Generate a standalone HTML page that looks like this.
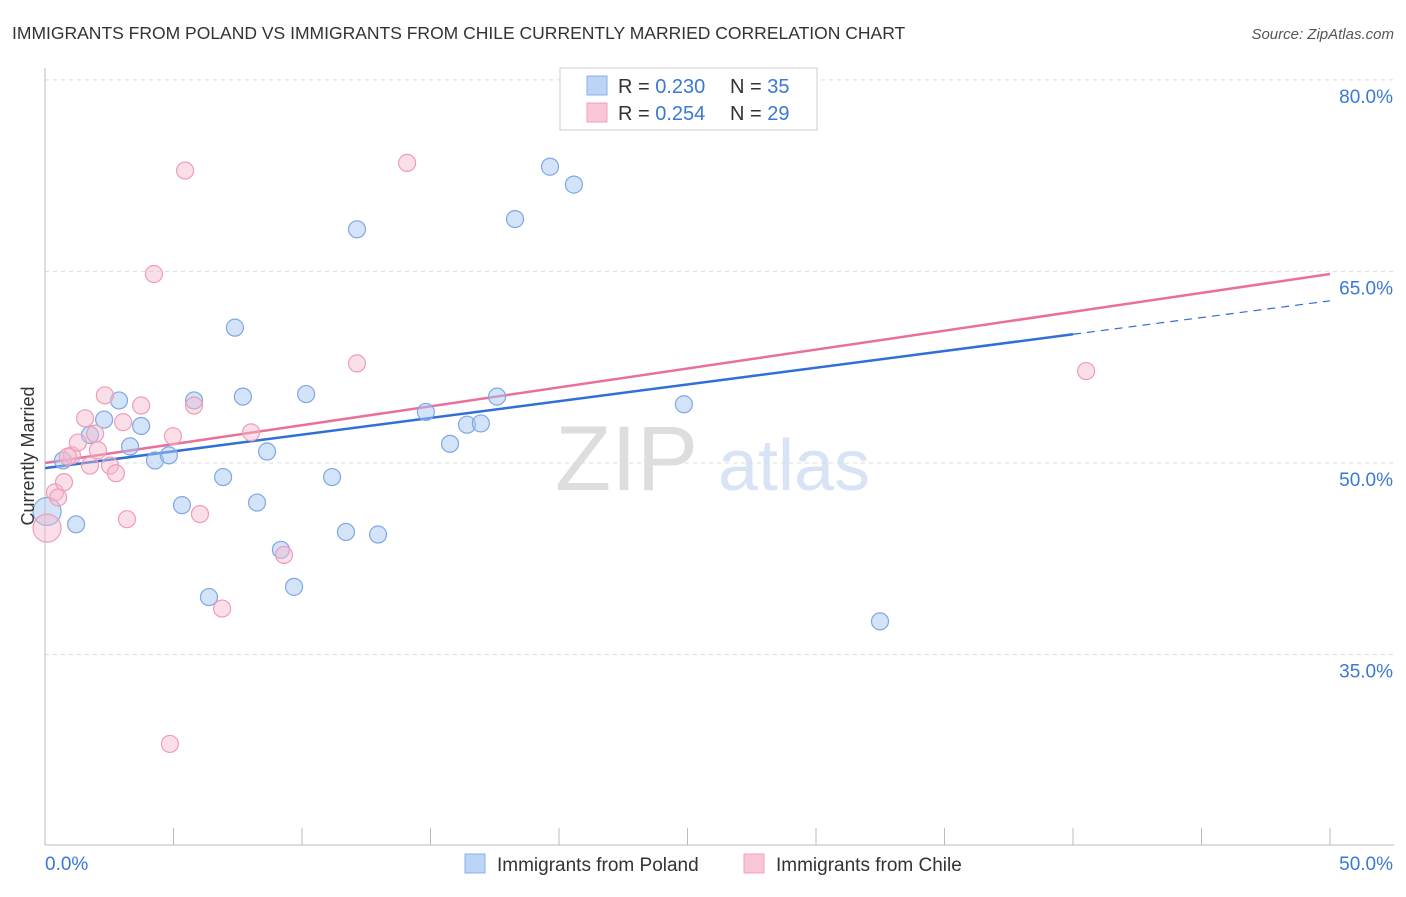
<!DOCTYPE html>
<html><head><meta charset="utf-8"><style>
body{margin:0;background:#fff;font-family:"Liberation Sans",sans-serif;}
svg text{font-family:"Liberation Sans",sans-serif;}
</style></head><body>
<svg id="chart" width="1406" height="892" xmlns="http://www.w3.org/2000/svg">
<text x="12" y="39" font-size="17.5" fill="#333">IMMIGRANTS FROM POLAND VS IMMIGRANTS FROM CHILE CURRENTLY MARRIED CORRELATION CHART</text>
<text x="1394" y="39" font-size="15" fill="#555" text-anchor="end" font-style="italic">Source: ZipAtlas.com</text>
<g>
<text x="555" y="490" font-size="92" fill="#ddd" font-family="Liberation Serif,serif">ZIP</text>
<text x="718" y="490" font-size="72" fill="#d8e4f5">atlas</text>
</g>
<g id="grid"></g>
<g id="axes"></g>
<g id="lines"></g>
<g id="points"></g>
<text transform="translate(34,456) rotate(-90)" font-size="18" fill="#333" text-anchor="middle">Currently Married</text>
<g>
<rect x="560" y="68" width="257" height="62" fill="#fff" stroke="#ccc"/>
<rect x="587" y="76" width="20" height="19" fill="#bcd4f5" stroke="#8ab0e6"/>
<rect x="587" y="103" width="20" height="19" fill="#f9c6d5" stroke="#f0a0bb"/>
<text x="618" y="93" font-size="20" fill="#333">R = <tspan fill="#3a78d4">0.230</tspan></text>
<text x="730" y="93" font-size="20" fill="#333">N = <tspan fill="#3a78d4">35</tspan></text>
<text x="618" y="120" font-size="20" fill="#333">R = <tspan fill="#3a78d4">0.254</tspan></text>
<text x="730" y="120" font-size="20" fill="#333">N = <tspan fill="#3a78d4">29</tspan></text>
</g>
<g>
<rect x="465" y="854" width="20" height="19" fill="#bcd4f5" stroke="#8ab0e6"/>
<text x="497" y="871" font-size="19" fill="#333">Immigrants from Poland</text>
<rect x="744" y="854" width="20" height="19" fill="#f9c6d5" stroke="#f0a0bb"/>
<text x="776" y="871" font-size="19" fill="#333">Immigrants from Chile</text>
</g>
</svg>
<script>
const yTicks=[35,50,65,80];
const xTickLabels=["0.0%","50.0%"];
const polandX=[0.08,1.21,0.70,1.75,2.30,2.88,3.31,3.74,4.28,4.82,5.33,5.80,6.38,6.93,7.39,7.70,8.25,8.64,9.18,9.69,10.16,11.17,11.71,12.14,12.96,14.82,15.76,16.42,16.96,17.59,18.29,19.65,20.58,24.86,32.49];
const polandY=[46.2,45.2,50.2,52.2,53.4,54.9,51.3,52.9,50.2,50.6,46.7,54.9,39.5,48.9,60.6,55.2,46.9,50.9,43.2,40.3,55.4,48.9,44.6,68.3,44.4,54.0,51.5,53.0,53.1,55.2,69.1,73.2,71.8,54.6,37.6];
const chileX=[0.08,0.39,0.51,0.74,1.05,1.28,1.56,1.75,1.95,2.06,2.33,2.53,2.76,3.04,3.19,3.74,4.24,4.86,4.98,5.45,5.80,6.03,6.89,8.02,9.30,12.14,14.09,40.51,0.89];
const chileY=[44.9,47.7,47.3,48.5,50.6,51.6,53.5,49.8,52.3,51.0,55.3,49.8,49.2,53.2,45.6,54.5,64.8,28.0,52.1,72.9,54.5,46.0,38.6,52.4,42.8,57.8,73.5,57.2,50.5];
const polandTrend=[49.6,62.7];
const polandSolidEnd=40;
const chileTrend=[50.0,64.8];
const NS="http://www.w3.org/2000/svg";
const X=v=>45+v/50*1285;
const Y=v=>463-(v-50)*12.77;
function mk(t,a,p){const e=document.createElementNS(NS,t);for(const k in a)e.setAttribute(k,a[k]);p.appendChild(e);return e;}
const grid=document.getElementById('grid'),axes=document.getElementById('axes'),lines=document.getElementById('lines'),pts=document.getElementById('points');
yTicks.forEach(v=>{
 const l=mk('line',{x1:45,x2:1394,y1:Y(v),y2:Y(v),stroke:'#ddd','stroke-dasharray':'4,4'},grid);
 
 
 const t=mk('text',{x:1393,y:Y(v)+23,'font-size':19,fill:'#3a78d4','text-anchor':'end'},grid);
 t.textContent=v.toFixed(1)+'%';
 
 
});
mk('line',{x1:45,x2:45,y1:68,y2:845,stroke:'#bbb'},axes);
mk('line',{x1:45,x2:1394,y1:845,y2:845,stroke:'#bbb'},axes);
for(let i=0;i<=10;i++){const tk=mk('line',{x1:X(i*5),x2:X(i*5),y1:828,y2:845,stroke:'#bbb'},axes);
 
 }
const xl0=mk('text',{x:45,y:870,'font-size':19,fill:'#3a78d4'},axes);xl0.textContent=xTickLabels[0];


const xl1=mk('text',{x:1393,y:870,'font-size':19,fill:'#3a78d4','text-anchor':'end'},axes);xl1.textContent=xTickLabels[1];


const pAt=x=>polandTrend[0]+(polandTrend[1]-polandTrend[0])*x/50;
let l1=mk('line',{x1:X(0),y1:Y(pAt(0)),x2:X(polandSolidEnd),y2:Y(pAt(polandSolidEnd)),stroke:'#2f6fd6','stroke-width':2.5},lines);


let l2=mk('line',{x1:X(polandSolidEnd),y1:Y(pAt(polandSolidEnd)),x2:X(50),y2:Y(pAt(50)),stroke:'#2f6fd6','stroke-width':1.2,'stroke-dasharray':'8,6'},lines);


let l3=mk('line',{x1:X(0),y1:Y(chileTrend[0]),x2:X(50),y2:Y(chileTrend[1]),stroke:'#e8709a','stroke-width':2.5},lines);


function drawPts(xs,ys,fill,stroke,name){xs.forEach((x,i)=>{
 const r=(x<0.2)?14:8.5;
 const c=mk('circle',{cx:X(x),cy:Y(ys[i]),r:r,fill:fill,stroke:stroke,'stroke-width':1.2},pts);
 
 
});}
drawPts(polandX,polandY,'rgba(168,200,242,0.5)','#7fa8e3','poland-point');
drawPts(chileX,chileY,'rgba(247,185,205,0.45)','#ef9cb8','chile-point');
</script>
</body></html>
